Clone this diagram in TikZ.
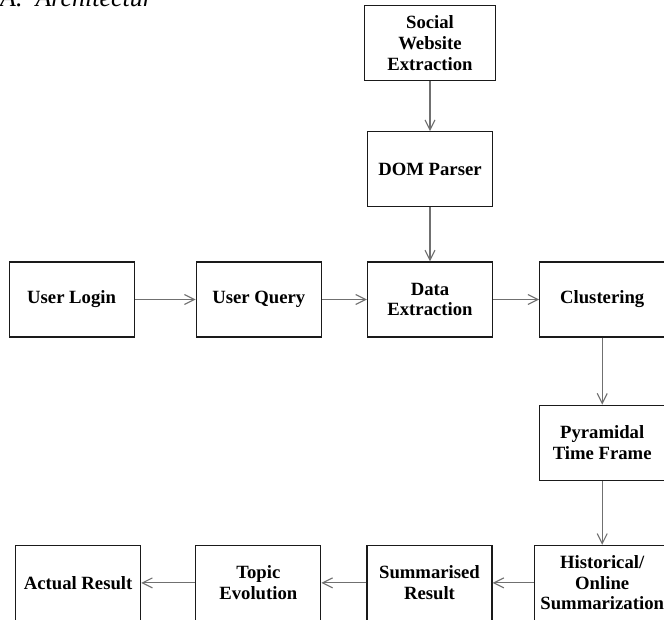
\documentclass[tikz,border=0pt]{standalone}
\usepackage{fontspec}
\setmainfont{Liberation Serif}
\usepackage{xcolor}
\usetikzlibrary{arrows.meta,positioning}
\definecolor{ArchLine}{HTML}{1A1A1A}
\definecolor{ArchFlow}{HTML}{707070}
\tikzset{
  arch box/.style={
    draw=ArchLine,
    fill=white,
    line width=1.2pt,
    align=center,
    minimum width=125pt,
    minimum height=75pt,
    inner sep=2pt,
    font=\bfseries\fontsize{18.7}{20.6}\selectfont
  },
  arch flow/.style={-{Straight Barb[length=10pt,width=10pt]},draw=ArchFlow,line width=1.1pt},
  arch heading/.style={
    anchor=base west,
    inner sep=0pt,
    font=\itshape\fontsize{26}{28}\selectfont
  }
}

\begin{document}
\begin{tikzpicture}[x=1pt,y=1pt]
  \useasboundingbox (0,0) rectangle (664,619);
  \clip (0,0) rectangle (664,619);
  \fill[white] (0,0) rectangle (664,619);

  \node[arch heading] (heading) at (0,612) {A.\enspace Architectur};

  \node[arch box] (extract) at (430,319.5) {Data\\Extraction};
  \node[arch box,left=45pt of extract] (query) {User Query};
  \node[arch box,left=61pt of query] (login) {User Login};
  \node[arch box,right=46pt of extract] (cluster) {Clustering};
  \node[arch box,above=54pt of extract] (dom) {DOM Parser};
  \node[arch box,minimum width=131pt,above=50pt of dom] (social) {Social\\Website\\Extraction};
  \node[arch box,below=67pt of cluster] (pyramid) {Pyramidal\\Time Frame};
  \node[arch box,minimum width=136pt,below=64pt of pyramid] (history) {Historical/\\Online\\Summarization};
  \node[arch box,left=41pt of history] (summary) {Summarised\\Result};
  \node[arch box,left=45pt of summary] (topic) {Topic\\Evolution};
  \node[arch box,left=54pt of topic] (actual) {Actual Result};

  \draw[arch flow] (social) -- (dom);
  \draw[arch flow] (dom) -- (extract);
  \draw[arch flow] (login) -- (query);
  \draw[arch flow] (query) -- (extract);
  \draw[arch flow] (extract) -- (cluster);
  \draw[arch flow] (cluster) -- (pyramid);
  \draw[arch flow] (pyramid) -- (history);
  \draw[arch flow] (history) -- (summary);
  \draw[arch flow] (summary) -- (topic);
  \draw[arch flow] (topic) -- (actual);
\end{tikzpicture}
\end{document}
